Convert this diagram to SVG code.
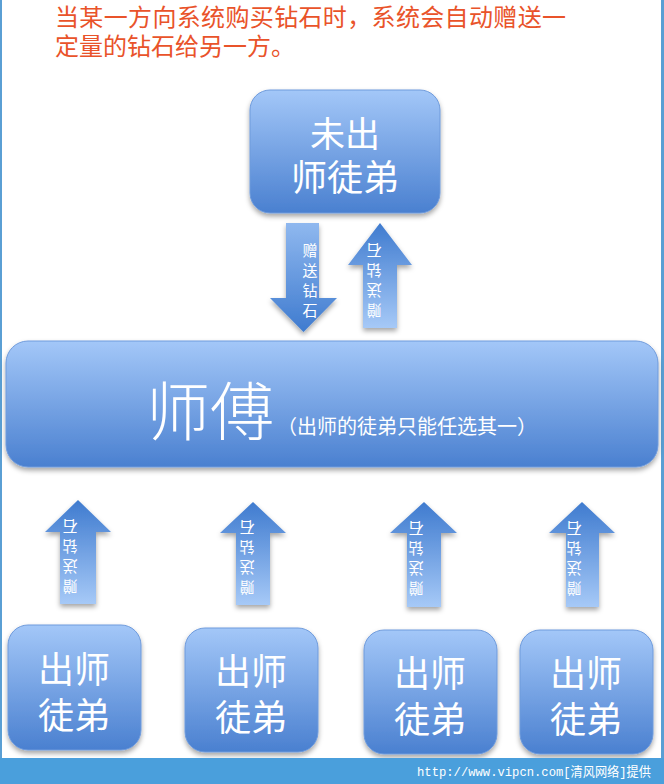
<svg xmlns="http://www.w3.org/2000/svg" width="664" height="784" viewBox="0 0 664 784">
<defs>
<linearGradient id="gNode" x1="0" y1="0" x2="0" y2="1">
<stop offset="0" stop-color="#a3c7f8"/>
<stop offset="1" stop-color="#4a80d0"/>
</linearGradient>
<linearGradient id="gUp" x1="0" y1="0" x2="0" y2="1">
<stop offset="0" stop-color="#3f7bcf"/>
<stop offset="1" stop-color="#a6c9f7"/>
</linearGradient>
<linearGradient id="gDown" x1="0" y1="0" x2="0" y2="1">
<stop offset="0" stop-color="#8fb8ef"/>
<stop offset="1" stop-color="#3f7bcf"/>
</linearGradient>
<filter id="sh" x="-10%" y="-10%" width="120%" height="130%">
<feDropShadow dx="0" dy="3" stdDeviation="2.5" flood-color="#000" flood-opacity="0.35"/>
</filter>
</defs>
<style>
.node{fill:url(#gNode);stroke:#6f9bdc;stroke-width:1;filter:url(#sh)}
.up{fill:url(#gUp);filter:url(#sh)}
.down{fill:url(#gDown);filter:url(#sh)}
.nt{fill:#fff;font-family:"Noto Sans CJK SC",sans-serif;text-anchor:middle}
.at{fill:#fff;font-family:"Noto Sans CJK SC",sans-serif;font-size:15px;text-anchor:middle;dominant-baseline:central}
.title{fill:#e9532a;font-family:"Noto Sans CJK SC",sans-serif;font-size:24px;font-weight:normal}
</style>
<rect x="0" y="0" width="664" height="784" fill="#fff"/>
<rect x="0" y="0" width="2" height="784" fill="#5a9fd4"/>
<rect x="661" y="0" width="3" height="784" fill="#5a9fd4"/>

<g id="title">
<text class="title" x="55" y="26" textLength="511" lengthAdjust="spacing">当某一方向系统购买钻石时，系统会自动赠送一</text>
<text class="title" x="55" y="55">定量的钻石给另一方。</text>
</g>

<g id="connectors">
<g id="arrow-down-top">
<path class="down" d="M286,223 H319 V298 H337 L303.5,332 L270,298 H286 Z"/>
<text class="at" x="310" y="249">赠</text>
<text class="at" x="310" y="269">送</text>
<text class="at" x="310" y="289">钻</text>
<text class="at" x="310" y="309">石</text>
</g>
<g id="arrow-up-top">
<path class="up" d="M380,223 L412,265 H397 V328 H363 V265 H348 Z"/>
<g transform="rotate(180 374 281)">
<text class="at" x="374" y="251">赠</text>
<text class="at" x="374" y="271">送</text>
<text class="at" x="374" y="291">钻</text>
<text class="at" x="374" y="311">石</text>
</g>
</g>
<g id="arrow-up-1">
<path class="up" d="M78,500 L111,532 H96 V604 H60 V532 H45 Z"/>
<g transform="rotate(180 70 557)">
<text class="at" x="70" y="527">赠</text>
<text class="at" x="70" y="547">送</text>
<text class="at" x="70" y="567">钻</text>
<text class="at" x="70" y="587">石</text>
</g>
</g>
<g id="arrow-up-2">
<path class="up" d="M253,502 L286,533 H270 V605 H236 V533 H220 Z"/>
<g transform="rotate(180 247 558)">
<text class="at" x="247" y="528">赠</text>
<text class="at" x="247" y="548">送</text>
<text class="at" x="247" y="568">钻</text>
<text class="at" x="247" y="588">石</text>
</g>
</g>
<g id="arrow-up-3">
<path class="up" d="M424,502 L457,533 H441 V607 H407 V533 H390 Z"/>
<g transform="rotate(180 416 559)">
<text class="at" x="416" y="529">赠</text>
<text class="at" x="416" y="549">送</text>
<text class="at" x="416" y="569">钻</text>
<text class="at" x="416" y="589">石</text>
</g>
</g>
<g id="arrow-up-4">
<path class="up" d="M582,502 L615,533 H599 V607 H566 V533 H549 Z"/>
<g transform="rotate(180 574 559)">
<text class="at" x="574" y="529">赠</text>
<text class="at" x="574" y="549">送</text>
<text class="at" x="574" y="569">钻</text>
<text class="at" x="574" y="589">石</text>
</g>
</g>
</g>

<g id="node-apprentice">
<rect class="node" x="250" y="90" width="190" height="123" rx="20"/>
<text class="nt" x="345" y="147" font-size="35">未出</text>
<text class="nt" x="345" y="191" font-size="36">师徒弟</text>
</g>

<g id="node-master">
<rect class="node" x="6" y="341" width="652" height="126" rx="22"/>
<text x="146" y="435" fill="#fff" font-family="Noto Sans CJK SC, sans-serif" font-size="64" font-weight="300">师傅</text>
<text x="277" y="434" fill="#fff" font-family="Noto Sans CJK SC, sans-serif" font-size="20">（出师的徒弟只能任选其一）</text>
</g>

<g id="node-grad-1">
<rect class="node" x="8" y="625" width="133" height="125" rx="20"/>
<text class="nt" x="74" y="683" font-size="36">出师</text>
<text class="nt" x="74" y="729" font-size="36">徒弟</text>
</g>
<g id="node-grad-2">
<rect class="node" x="185" y="628" width="133" height="124" rx="20"/>
<text class="nt" x="251" y="685" font-size="36">出师</text>
<text class="nt" x="251" y="731" font-size="36">徒弟</text>
</g>
<g id="node-grad-3">
<rect class="node" x="364" y="630" width="133" height="124" rx="20"/>
<text class="nt" x="430" y="687" font-size="36">出师</text>
<text class="nt" x="430" y="733" font-size="36">徒弟</text>
</g>
<g id="node-grad-4">
<rect class="node" x="520" y="630" width="133" height="124" rx="20"/>
<text class="nt" x="586" y="687" font-size="36">出师</text>
<text class="nt" x="586" y="733" font-size="36">徒弟</text>
</g>

<g id="footer">
<rect x="0" y="758" width="664" height="26" fill="#4a9fdc"/>
<text x="417" y="776" fill="#fff" font-family="Liberation Mono, Noto Sans CJK SC, monospace" font-size="13" textLength="234" lengthAdjust="spacingAndGlyphs">http://www.vipcn.com[清风网络]提供</text>
</g>
</svg>
